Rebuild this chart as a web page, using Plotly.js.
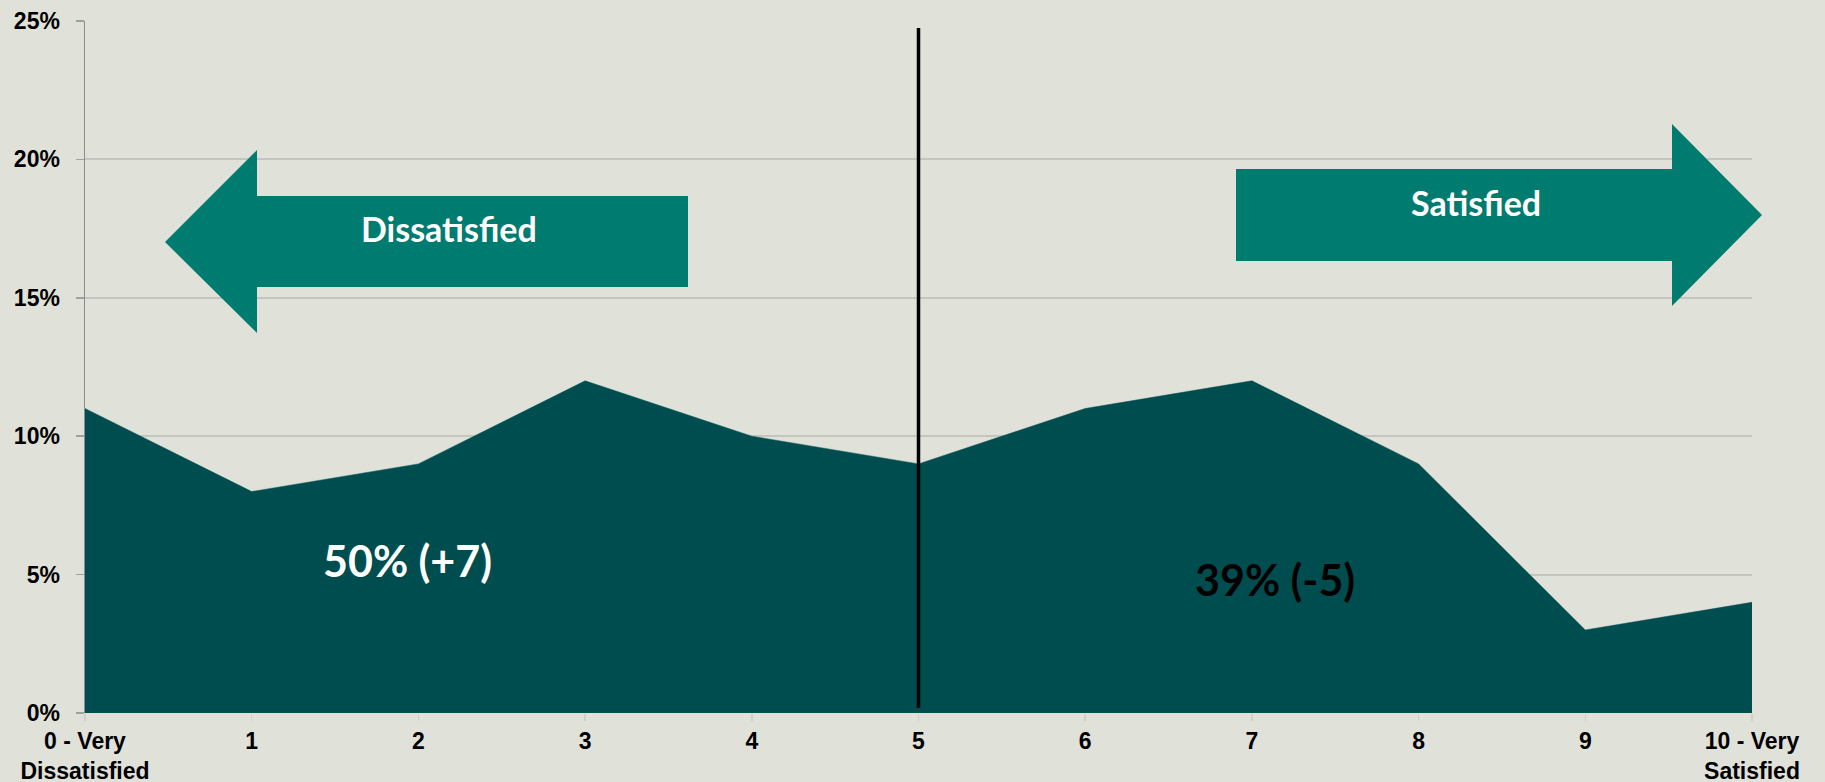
<!DOCTYPE html>
<html>
<head>
<meta charset="utf-8">
<script src="https://cdn.plot.ly/plotly-3.0.1.min.js"></script>
<style>html,body{margin:0;padding:0;background:#e0e1d9;}#chart{width:1825px;height:782px;}</style>
</head>
<body>
<div id="chart"></div>
<script>
// Data
const scores = [0,1,2,3,4,5,6,7,8,9,10];
const tickLabels = ["0 - Very<br>Dissatisfied","1","2","3","4","5","6","7","8","9","10 - Very<br>Satisfied"];
const percentages = [11, 8, 9, 12, 10, 9, 11, 12, 9, 3, 4];
const yTickVals = [0, 5, 10, 15, 20, 25];
const yTickLabels = ["0%", "5%", "10%", "15%", "20%", "25%"];
const dissatisfiedLabel = "50% (+7)";
const satisfiedLabel = "39% (-5)";
const neutralScore = 5;

// Layout geometry (pixels)
const W = 1825, H = 782;
const mL = 85, mR = 73, mT = 21, mB = 69;
const plotW = W - mL - mR, plotH = H - mT - mB;
// convert pixel position to paper coords (decorative arrow shapes / text)
function px(x){ return (x - mL) / plotW; }
function py(y){ return (H - mB - y) / plotH; }
function path(pts){ return 'M' + pts.map(p => px(p[0]) + ',' + py(p[1])).join(' L') + ' Z'; }

const leftArrow = path([[165,242],[257,150],[257,196],[688,196],[688,287],[257,287],[257,333]]);
const rightArrow = path([[1236,169],[1672,169],[1672,124],[1762,215],[1672,306],[1672,261],[1236,261]]);

const arrowColor = '#007b70';
const fillColor = '#004d50';
const bg = '#e0e1d9';

const trace = {
  x: scores, y: percentages, type: 'scatter', mode: 'lines',
  fill: 'tozeroy', fillcolor: fillColor,
  line: {color: fillColor, width: 0.5}, hoverinfo: 'skip'
};

const tickFont = {size: 23, weight: 'bold', family: 'Liberation Sans, Arial, sans-serif', color: '#000'};
const boxFont = 'Lato, Open Sans, sans-serif';

function label(x, y, text, size, color){
  return {xref: 'paper', yref: 'paper', x: px(x), y: py(y), xanchor: 'center', yanchor: 'middle',
          text: text, showarrow: false, font: {family: boxFont, size: size, weight: 'bold', color: color}};
}

const layout = {
  width: W, height: H,
  paper_bgcolor: bg, plot_bgcolor: bg,
  margin: {l: mL, r: mR, t: mT, b: mB, pad: 0},
  showlegend: false,
  font: {family: 'Liberation Sans, Arial, sans-serif', color: '#000'},
  xaxis: {
    range: [0, 10], tickvals: scores, ticktext: tickLabels,
    showgrid: false, zeroline: false, showline: false,
    ticks: 'outside', ticklen: 7, tickcolor: '#cfd0cc', tickwidth: 1.5,
    tickfont: tickFont, fixedrange: true
  },
  yaxis: {
    range: [0, 25], tickvals: yTickVals, ticktext: yTickLabels,
    showgrid: true, gridcolor: '#c4c5c1', gridwidth: 2,
    zeroline: false, showline: true, linecolor: '#8c8c8c', linewidth: 1.5,
    ticks: 'outside', ticklen: 8, tickcolor: '#a0a0a0', tickwidth: 1.5,
    ticklabelstandoff: 11,
    tickfont: tickFont, fixedrange: true
  },
  shapes: [
    {type: 'path', xref: 'paper', yref: 'paper', path: leftArrow, fillcolor: arrowColor, line: {width: 0}, layer: 'above'},
    {type: 'path', xref: 'paper', yref: 'paper', path: rightArrow, fillcolor: arrowColor, line: {width: 0}, layer: 'above'},
    {type: 'line', xref: 'x', yref: 'paper', x0: neutralScore, x1: neutralScore, y0: py(708), y1: py(28),
     line: {color: '#000', width: 3.5}, layer: 'above'}
  ],
  annotations: [
    label(449, 229, 'Dissatisfied', 34, '#fff'),
    label(1476, 203, 'Satisfied', 34, '#fff'),
    label(407, 560, dissatisfiedLabel, 43, '#fff'),
    label(1275, 579, satisfiedLabel, 43, '#000')
  ]
};

Plotly.newPlot('chart', [trace], layout, {displayModeBar: false, staticPlot: true});
</script>
</body>
</html>
